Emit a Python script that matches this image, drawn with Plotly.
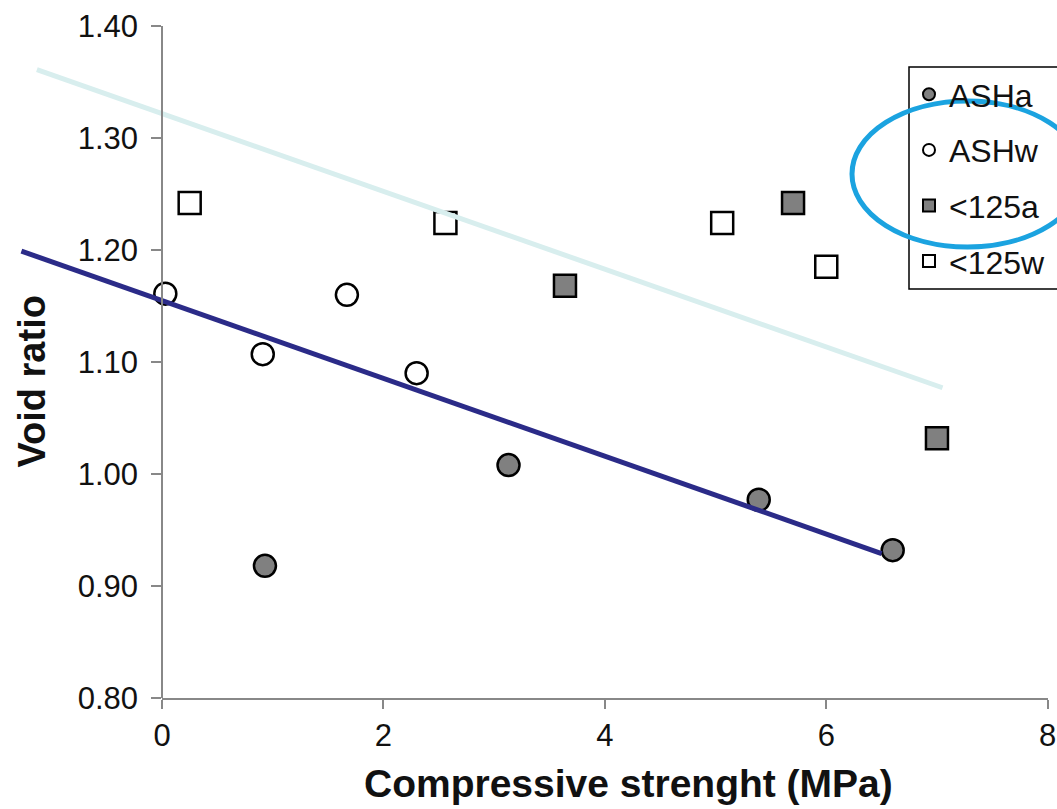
import plotly.graph_objects as go

# ---- data ----
asha_x = [0.93, 3.13, 5.39, 6.60]
asha_y = [0.918, 1.008, 0.977, 0.932]
ashw_x = [0.03, 0.91, 1.67, 2.30]
ashw_y = [1.161, 1.107, 1.160, 1.090]
a125_x = [3.64, 5.70, 7.00]
a125_y = [1.168, 1.242, 1.032]
w125_x = [0.25, 2.56, 5.06, 6.00]
w125_y = [1.242, 1.224, 1.224, 1.185]

# trend lines (end points)
trend_dark_x = [-1.27, 6.50]
trend_dark_y = [1.199, 0.929]
trend_light_x = [-1.13, 7.05]
trend_light_y = [1.361, 1.077]

x_ticks = [0, 2, 4, 6, 8]
y_ticks = [0.80, 0.90, 1.00, 1.10, 1.20, 1.30, 1.40]

W, H = 1057, 809
ML, MR, MT, MB = 0, 0, 26, 111
PX0 = 162.0      # pixel of x=0
PX_PER = 110.71  # pixels per x unit
x_lo = -PX0 / PX_PER
x_hi = (W - PX0) / PX_PER
PH = H - MT - MB

FONT = "Liberation Sans, Arial, sans-serif"
TXT = "#111111"

fig = go.Figure()

mk = dict(size=22, line=dict(color="black", width=2.5))
fig.add_trace(go.Scatter(x=asha_x, y=asha_y, mode="markers", name="ASHa",
                         legendgroup="g1",
                         marker=dict(symbol="circle", color="#808080", **mk)))
fig.add_trace(go.Scatter(x=ashw_x, y=ashw_y, mode="markers", name="ASHw",
                         legendgroup="g2",
                         marker=dict(symbol="circle", color="white", **mk)))
fig.add_trace(go.Scatter(x=a125_x, y=a125_y, mode="markers", name="<125a",
                         legendgroup="g3",
                         marker=dict(symbol="square", color="#808080", **mk)))
fig.add_trace(go.Scatter(x=w125_x, y=w125_y, mode="markers", name="<125w",
                         legendgroup="g4",
                         marker=dict(symbol="square", color="white", **mk)))

fig.add_trace(go.Scatter(x=trend_light_x, y=trend_light_y, mode="lines",
                         line=dict(color="#D8EEEE", width=5), showlegend=False,
                         hoverinfo="skip"))
fig.add_trace(go.Scatter(x=trend_dark_x, y=trend_dark_y, mode="lines",
                         line=dict(color="#2B2B88", width=5), showlegend=False,
                         hoverinfo="skip"))

# dummy trace to create the visible x axis subplot
fig.add_trace(go.Scatter(x=[None], y=[None], xaxis="x2", yaxis="y",
                         showlegend=False, hoverinfo="skip"))

axis_col = "#888888"
fig.update_layout(
    width=W, height=H,
    margin=dict(l=ML, r=MR, t=MT, b=MB, pad=0, autoexpand=False),
    paper_bgcolor="white", plot_bgcolor="rgba(0,0,0,0)",
    font=dict(family=FONT, color=TXT),
    xaxis=dict(domain=[0, 1], range=[x_lo, x_hi], visible=False, fixedrange=True),
    xaxis2=dict(domain=[PX0 / W, (PX0 + 8 * PX_PER) / W], range=[0, 8],
                anchor="y", tickvals=x_ticks, ticktext=[str(v) for v in x_ticks],
                showline=True, linecolor=axis_col, linewidth=1.5,
                ticks="outside", ticklen=9, tickwidth=1.5, tickcolor=axis_col,
                showgrid=False, zeroline=False,
                tickfont=dict(size=31, family=FONT, color=TXT)),
    yaxis=dict(domain=[0, 1], range=[0.80, 1.40], anchor="free",
               position=PX0 / W, tickvals=y_ticks,
               ticktext=[f"{v:.2f}" for v in y_ticks],
               showline=True, linecolor=axis_col, linewidth=1.5,
               ticks="outside", ticklen=10, tickwidth=1.5, tickcolor=axis_col,
               ticklabelstandoff=7,
               showgrid=False, zeroline=False,
               tickfont=dict(size=31, family=FONT, color=TXT)),
    legend=dict(x=909 / W, y=(H - MB - 67) / PH, xanchor="left",
                yanchor="top", bgcolor="rgba(0,0,0,0)", borderwidth=0,
                font=dict(size=32, family=FONT, color=TXT),
                itemwidth=30, itemsizing="constant", tracegroupgap=11,
                traceorder="grouped"),
    showlegend=True,
)

fig.add_annotation(text="<b>Void ratio</b>", xref="paper", yref="paper",
                   x=31 / W, y=(H - MB - 381.5) / PH, textangle=-90,
                   xanchor="center", yanchor="middle",
                   showarrow=False, font=dict(size=38, family=FONT, color=TXT))
fig.add_annotation(text="<b>Compressive strenght (MPa)</b>", xref="paper", yref="paper",
                   x=628 / W, y=(H - MB - 783) / PH,
                   xanchor="center", yanchor="middle",
                   showarrow=False, font=dict(size=39, family=FONT, color=TXT))

# legend frame (runs off the right edge as in the reference)
fig.add_shape(type="rect", xref="paper", yref="paper",
              x0=909 / W, x1=1080 / W,
              y0=(H - MB - 289) / PH, y1=(H - MB - 67) / PH,
              line=dict(color="black", width=1.5), fillcolor="white",
              layer="above")
# highlight ellipse
fig.add_shape(type="circle", xref="paper", yref="paper",
              x0=852 / W, x1=1083 / W,
              y0=(H - MB - 247) / PH, y1=(H - MB - 101) / PH,
              line=dict(color="#1BA3E0", width=5), fillcolor="rgba(0,0,0,0)",
              layer="above")

fig.write_html("out.html",
               config={"displayModeBar": False},
               post_script="document.body.style.margin='0';document.body.style.overflow='hidden';")
